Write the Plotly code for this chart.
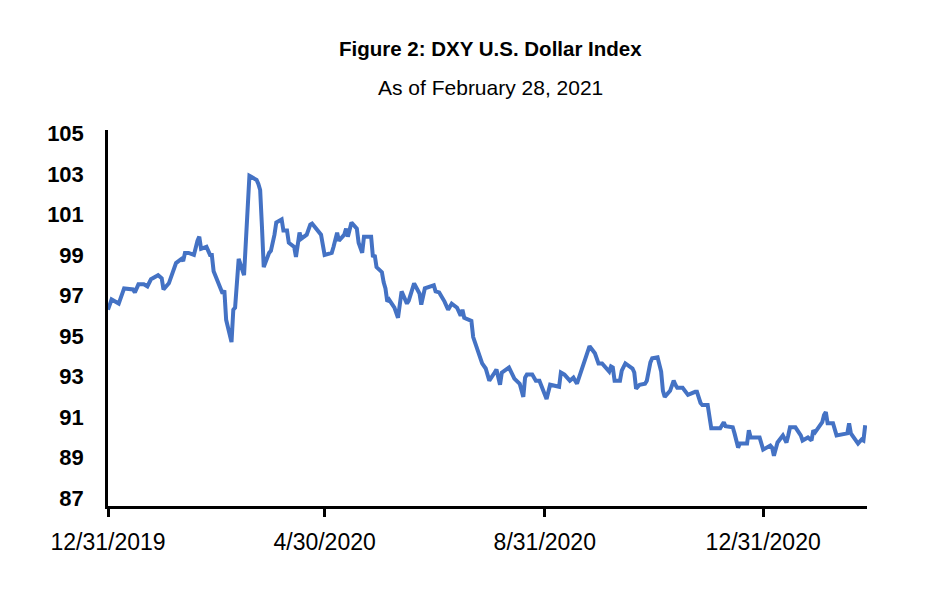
import plotly.graph_objects as go

dates = [
    "2019-12-31", "2020-01-02", "2020-01-06", "2020-01-09", "2020-01-14", "2020-01-15", "2020-01-17",
    "2020-01-20", "2020-01-22", "2020-01-24", "2020-01-28", "2020-01-30", "2020-01-31", "2020-02-03",
    "2020-02-07", "2020-02-10", "2020-02-11", "2020-02-12", "2020-02-14", "2020-02-17", "2020-02-19",
    "2020-02-20", "2020-02-21", "2020-02-24", "2020-02-26", "2020-02-27", "2020-02-28", "2020-03-02",
    "2020-03-04", "2020-03-05", "2020-03-06", "2020-03-09", "2020-03-10", "2020-03-11", "2020-03-13",
    "2020-03-16", "2020-03-19", "2020-03-20", "2020-03-23", "2020-03-24", "2020-03-25", "2020-03-26",
    "2020-03-27", "2020-03-30", "2020-03-31", "2020-04-02", "2020-04-03", "2020-04-06", "2020-04-07",
    "2020-04-09", "2020-04-10", "2020-04-13", "2020-04-14", "2020-04-16", "2020-04-17", "2020-04-20",
    "2020-04-22", "2020-04-23", "2020-04-28", "2020-04-30", "2020-05-04", "2020-05-05", "2020-05-07",
    "2020-05-08", "2020-05-11", "2020-05-12", "2020-05-13", "2020-05-15", "2020-05-18", "2020-05-19",
    "2020-05-21", "2020-05-22", "2020-05-26", "2020-05-27", "2020-05-28", "2020-05-29", "2020-06-01",
    "2020-06-02", "2020-06-03", "2020-06-04", "2020-06-05", "2020-06-08", "2020-06-10", "2020-06-12",
    "2020-06-15", "2020-06-16", "2020-06-19", "2020-06-22", "2020-06-23", "2020-06-25", "2020-06-30",
    "2020-07-01", "2020-07-03", "2020-07-06", "2020-07-08", "2020-07-10", "2020-07-13", "2020-07-15",
    "2020-07-16", "2020-07-17", "2020-07-21", "2020-07-22", "2020-07-24", "2020-07-27", "2020-07-29",
    "2020-07-31", "2020-08-03", "2020-08-04", "2020-08-06", "2020-08-07", "2020-08-11", "2020-08-14",
    "2020-08-17", "2020-08-19", "2020-08-20", "2020-08-21", "2020-08-24", "2020-08-26", "2020-08-28",
    "2020-08-31", "2020-09-01", "2020-09-03", "2020-09-07", "2020-09-08", "2020-09-09", "2020-09-11",
    "2020-09-14", "2020-09-16", "2020-09-18", "2020-09-21", "2020-09-24", "2020-09-25", "2020-09-28",
    "2020-09-30", "2020-10-02", "2020-10-05", "2020-10-06", "2020-10-07", "2020-10-08", "2020-10-09",
    "2020-10-12", "2020-10-13", "2020-10-15", "2020-10-19", "2020-10-20", "2020-10-21", "2020-10-23",
    "2020-10-26", "2020-10-27", "2020-10-29", "2020-10-30", "2020-11-02", "2020-11-04", "2020-11-05",
    "2020-11-06", "2020-11-09", "2020-11-11", "2020-11-12", "2020-11-13", "2020-11-16", "2020-11-19",
    "2020-11-23", "2020-11-24", "2020-11-26", "2020-11-27", "2020-11-30", "2020-12-01", "2020-12-02",
    "2020-12-07", "2020-12-09", "2020-12-10", "2020-12-14", "2020-12-15", "2020-12-17", "2020-12-18",
    "2020-12-22", "2020-12-23", "2020-12-24", "2020-12-29", "2020-12-30", "2020-12-31", "2021-01-04",
    "2021-01-05", "2021-01-06", "2021-01-07", "2021-01-08", "2021-01-11", "2021-01-13", "2021-01-14",
    "2021-01-15", "2021-01-18", "2021-01-21", "2021-01-22", "2021-01-25", "2021-01-27", "2021-01-28",
    "2021-01-29", "2021-02-02", "2021-02-03", "2021-02-04", "2021-02-05", "2021-02-08", "2021-02-10",
    "2021-02-12", "2021-02-16", "2021-02-17", "2021-02-18", "2021-02-22", "2021-02-24", "2021-02-25",
    "2021-02-26",
]

dxy = [
    96.3, 96.8, 96.6, 97.35, 97.3, 97.15, 97.55,
    97.55, 97.45, 97.8, 98.0, 97.85, 97.3, 97.6,
    98.6, 98.8, 98.7, 99.1, 99.1, 99.0, 99.7,
    99.9, 99.3, 99.4, 99.0, 99.0, 98.2, 97.5,
    97.1, 97.25, 95.8, 94.7, 96.3, 96.4, 98.8,
    98.0, 102.9, 102.85, 102.7, 102.5, 102.2, 100.4,
    98.4, 99.1, 99.2, 100.0, 100.6, 100.75, 100.2,
    100.2, 99.6, 99.4, 98.9, 100.1, 99.8, 100.0,
    100.5, 100.55, 100.0, 99.0, 99.1, 99.4, 100.1,
    99.7, 100.0, 100.3, 99.9, 100.6, 100.3, 99.6,
    99.1, 99.9, 99.9, 98.9, 99.0, 98.4, 98.15,
    97.65, 97.35, 96.7, 96.8, 96.4, 95.9, 97.2,
    96.6, 96.75, 97.6, 97.1, 96.55, 97.35, 97.5,
    97.2, 97.15, 96.7, 96.3, 96.6, 96.4, 96.0,
    96.3, 95.9, 95.75, 94.95, 94.4, 93.65, 93.4,
    92.8, 93.2, 93.35, 92.6, 93.2, 93.45, 92.9,
    92.65, 92.0, 92.95, 93.1, 93.1, 92.8, 92.8,
    92.1, 91.9, 92.6, 92.5, 92.5, 93.2, 93.1,
    92.8, 92.95, 92.65, 93.45, 94.2, 94.5, 94.15,
    93.65, 93.65, 93.4, 93.25, 93.5, 93.45, 92.8,
    92.8, 93.3, 93.65, 93.4, 93.2, 92.4, 92.6,
    92.65, 92.8, 93.7, 93.9, 93.95, 93.25, 92.3,
    92.0, 92.3, 92.8, 92.6, 92.45, 92.45, 92.1,
    92.25, 92.25, 91.7, 91.6, 91.6, 90.95, 90.45,
    90.45, 90.75, 90.55, 90.5, 90.2, 89.5, 89.7,
    89.7, 90.35, 90.0, 90.0, 89.6, 89.4, 89.6,
    89.5, 89.1, 89.5, 89.75, 90.1, 89.75, 90.1,
    90.5, 90.5, 90.1, 89.85, 90.0, 89.85, 90.35,
    90.25, 90.75, 91.1, 91.25, 90.7, 90.7, 90.1,
    90.15, 90.2, 90.7, 90.2, 89.7, 89.9, 89.85,
    90.6,
]

x_tick_vals = ["2019-12-31", "2020-04-30", "2020-08-31", "2020-12-31"]
x_tick_text = ["12/31/2019", "4/30/2020", "8/31/2020", "12/31/2020"]
y_tick_vals = [87, 89, 91, 93, 95, 97, 99, 101, 103, 105]

title_text = "Figure 2: DXY U.S. Dollar Index"
subtitle_text = "As of February 28, 2021"

FONT = "Liberation Sans, Arial, sans-serif"

fig = go.Figure()
fig.add_trace(go.Scatter(
    x=dates, y=dxy, mode="lines",
    line=dict(color="#4472C4", width=4),
    hoverinfo="skip",
))

fig.update_layout(
    width=930, height=589,
    margin=dict(l=100, r=71, t=122, b=91),
    paper_bgcolor="white", plot_bgcolor="white",
    showlegend=False,
    font=dict(family=FONT, color="black"),
    annotations=[
        dict(text=title_text, xref="paper", yref="paper", x=0.504, y=1.218,
             xanchor="center", yanchor="middle", showarrow=False,
             font=dict(family=FONT, size=20.5, color="black", weight="bold")),
        dict(text=subtitle_text, xref="paper", yref="paper", x=0.504, y=1.112,
             xanchor="center", yanchor="middle", showarrow=False,
             font=dict(family=FONT, size=21, color="black")),
    ],
)

fig.update_xaxes(
    type="date", automargin=False,
    range=["2019-12-31", "2021-02-27"],
    tickmode="array", tickvals=x_tick_vals, ticktext=x_tick_text,
    ticks="outside", ticklen=8, tickwidth=2.5, tickcolor="black",
    showline=True, linecolor="black", linewidth=2.5,
    showgrid=False, zeroline=False,
    tickfont=dict(family=FONT, size=23, color="black"),
    ticklabelstandoff=6,
)

fig.update_yaxes(
    automargin=False,
    range=[86.62, 105.16],
    tickmode="array", tickvals=y_tick_vals,
    ticks="", showline=True, linecolor="black", linewidth=2.5,
    showgrid=False, zeroline=False,
    tickfont=dict(family=FONT, size=22, color="black", weight="bold"),
    ticklabelstandoff=17,
)

fig.write_html("out.html")
